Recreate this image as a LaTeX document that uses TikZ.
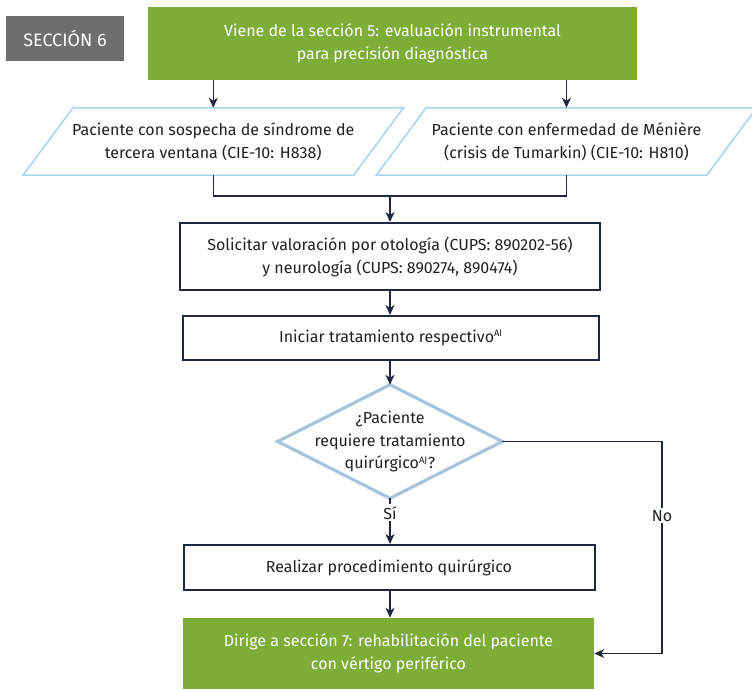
\documentclass[tikz,border=0pt]{standalone}
\usepackage{fontspec}
\setmainfont{Fira Sans}
\usetikzlibrary{arrows.meta,calc}

\definecolor{leafgreen}{HTML}{7DAC37}
\definecolor{slate}{HTML}{6E6E6E}
\definecolor{navy}{HTML}{1E2744}
\definecolor{skyline}{HTML}{A9D5F0}
\definecolor{steelblue}{HTML}{A8C3DC}
\definecolor{ink}{HTML}{231F20}

% one drawing unit = one pixel of the 752 x 689 sheet
\newcommand\px[1]{#1*0.75pt}

\begin{document}
\begin{tikzpicture}[x=0.75pt,y=-0.75pt,
  font=\fontsize{12}{17.2}\selectfont,
  tag/.style={fill=slate, text=white, inner sep=0pt, font=\fontsize{13.5}{16}\selectfont},
  greenbox/.style={fill=leafgreen, text=white, align=center, inner sep=0pt},
  slot/.style={draw=none, text=ink, align=center, inner sep=0pt},
  paraline/.style={draw=skyline, line width=\px{1.6}},
  stepbox/.style={draw=navy, line width=\px{2}, text=ink, align=center, inner sep=0pt},
  rhomb/.style={draw=steelblue, line width=\px{3.2}, line join=miter},
  link/.style={draw=navy, line width=\px{1.3}},
  arr/.style={link, -{Stealth[length=\px{10}, width=\px{9}, inset=\px{3}]}},
  lbl/.style={fill=white, text=ink, inner sep=\px{2}},
]
\useasboundingbox (0,0) rectangle (752,689);

% header
\node[tag, minimum width=\px{118}, minimum height=\px{45}] (sec) at (65,38.5) {SECCIÓN 6};
\node[greenbox, minimum width=\px{489}, minimum height=\px{73}] (src) at (392.5,43.5)
  {Viene de la sección 5: evaluación instrumental\\para precisión diagnóstica};

% input parallelograms
\node[slot, minimum width=\px{330}, minimum height=\px{67}] (pL) at (213.25,141.5)
  {Paciente con sospecha de síndrome de\\tercera ventana (CIE-10: H838)};
\node[slot, minimum width=\px{330}, minimum height=\px{67}] (pR) at (566.5,141.5)
  {Paciente con enfermedad de Ménière\\(crisis de Tumarkin) (CIE-10: H810)};
\foreach \p in {pL,pR}
  \draw[paraline] ($(\p.north west)+(25,0)$) -- ($(\p.north east)+(25,0)$)
    -- ($(\p.south east)+(-25,0)$) -- ($(\p.south west)+(-25,0)$) -- cycle;

% process steps
\node[stepbox, minimum width=\px{420}, minimum height=\px{67}] (ask) at (390,256.5)
  {Solicitar valoración por otología (CUPS: 890202-56)\\y neurología (CUPS: 890274, 890474)};
\node[stepbox, minimum width=\px{416}, minimum height=\px{44}] (treat) at (391,338)
  {Iniciar tratamiento respectivo\textsuperscript{\scriptsize AI}};

% decision
\node[slot, minimum width=\px{224}, minimum height=\px{113}] (dec) at (390,441.5)
  {¿Paciente\\requiere tratamiento\\quirúrgico\textsuperscript{\scriptsize AJ}?};
\draw[rhomb] (dec.north) -- (dec.east) -- (dec.south) -- (dec.west) -- cycle;

\node[stepbox, minimum width=\px{411}, minimum height=\px{45}] (surg) at (389,567.5)
  {Realizar procedimiento quirúrgico};
\node[greenbox, minimum width=\px{411}, minimum height=\px{71}] (dest) at (388.5,653.5)
  {Dirige a sección 7: rehabilitación del paciente\\con vértigo periférico};

% connectors
\draw[arr] (src.south -| pL) -- (pL.north);
\draw[arr] (src.south -| pR) -- (pR.north);
\coordinate (merge) at (390,196);
\draw[link] (pL.south) |- (merge) -| (pR.south);
\draw[arr] (merge) -- (ask.north -| merge);
\draw[arr] (ask.south -| merge) -- (treat.north -| merge);
\draw[arr] (treat.south -| merge) -- (dec.north);
\draw[arr] (dec.south) -- node[lbl, pos=0.32] {Sí} (surg.north -| dec.south);
\draw[arr] (surg.south -| dec.south) -- (dest.north -| dec.south);
\coordinate (noturn) at (662,441.5);
\draw[arr] (dec.east) -- (noturn) -- node[lbl, pos=0.35] {No} (dest.east -| noturn) -- (dest.east);
\end{tikzpicture}
\end{document}
